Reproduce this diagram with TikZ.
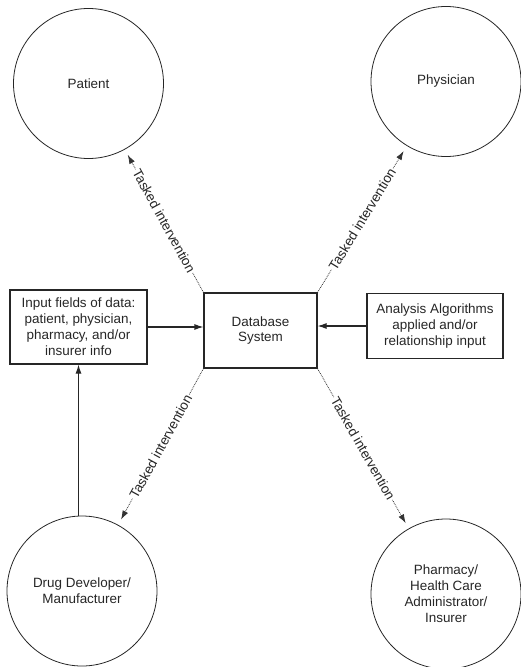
\documentclass[tikz,border=0pt]{standalone}
\usepackage{fontspec}
\setmainfont{Liberation Sans}
\usetikzlibrary{arrows.meta}
\begin{document}
\begin{tikzpicture}[x=1bp,y=-1bp,
  every node/.style={font=\fontsize{13.5}{16}\selectfont, text=black!85},
  actor/.style={circle, draw=black!85, line width=0.8bp, minimum size=150bp, inner sep=0pt, align=center},
  box/.style={rectangle, draw=black!85, line width=1.1bp, align=center, inner sep=0pt},
  flow/.style={draw=black!85, line width=1.1bp, -{Latex[length=9bp,width=6bp]}},
  task/.style={draw=black!80, densely dotted, line width=0.8bp, -{Latex[length=9bp,width=6bp]}, shorten >=6bp},
  tlabel/.style={sloped, fill=white, inner sep=1bp}
]
\useasboundingbox (0,0) rectangle (521,667);
\node[actor] (patient) at (88.5,83.5) {Patient};
\node[actor] (physician) at (446,81.5) {Physician};
\node[actor] (drug) at (82,591) {Drug Developer/\\Manufacturer};
\node[actor] (pharmacy) at (446,594) {Pharmacy/\\Health Care\\Administrator/\\Insurer};
\node[box, minimum width=137bp, minimum height=74bp] (input) at (78.5,327) {Input fields of data:\\patient, physician,\\pharmacy, and/or\\insurer info};
\node[box, minimum width=113bp, minimum height=75bp] (db) at (260.5,330.5) {Database\\System};
\node[box, minimum width=136bp, minimum height=65bp] (analysis) at (435,326) {Analysis Algorithms\\applied and/or\\relationship input};
\draw[flow] (input.east) -- (input.east -| db.west);
\draw[flow] (analysis.west) -- (analysis.west -| db.east);
\draw[flow] (input.south |- drug.north) -- (input.south);
\draw[task] (db.north west) -- node[tlabel]{Tasked intervention} (patient);
\draw[task] (db.north east) -- node[tlabel]{Tasked intervention} (physician);
\draw[task] (db.south west) -- node[tlabel]{Tasked intervention} (drug);
\draw[task] (db.south east) -- node[tlabel]{Tasked intervention} (pharmacy);
\end{tikzpicture}
\end{document}
